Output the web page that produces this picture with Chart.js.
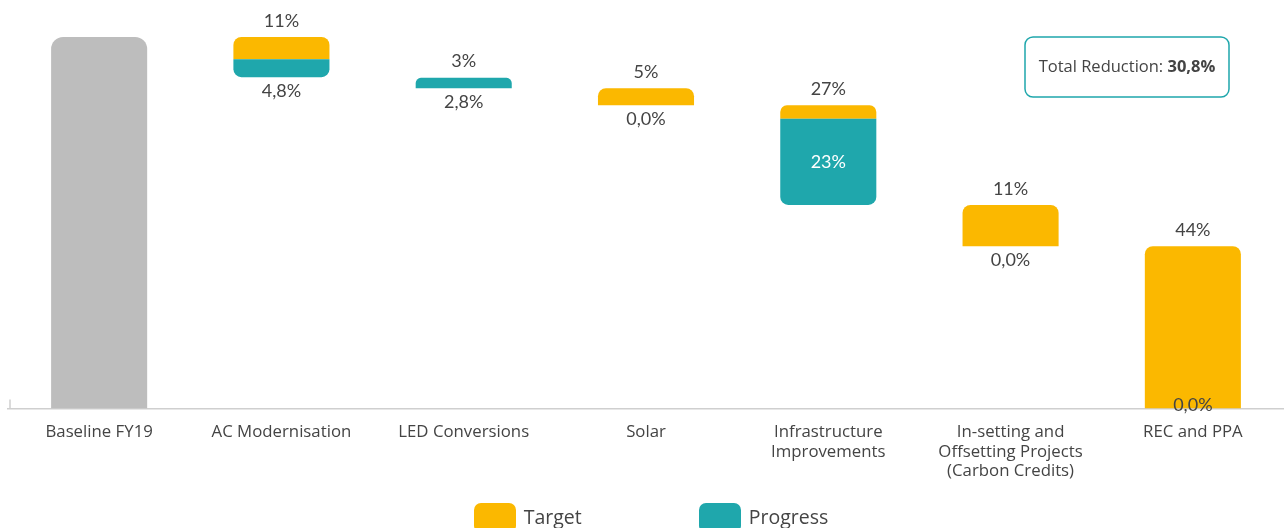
<!DOCTYPE html>
<html>
<head>
<meta charset="utf-8">
<script src="https://cdn.jsdelivr.net/npm/chart.js@4.4.1/dist/chart.umd.min.js"></script>
<style>
  body { margin: 0; background: #fff; }
  #wrap { position: relative; width: 1284px; height: 528px; overflow: hidden; }
  #legend {
    position: absolute; left: 0; right: 0; top: 503px;
    display: flex; justify-content: center; gap: 117px;
    font-family: 'Open Sans', sans-serif; font-size: 19.5px; color: #444;
    padding-left: 18px;
  }
  .legend-item { display: flex; align-items: flex-start; }
  .legend-box { width: 42px; height: 30px; border-radius: 7px; margin-right: 8px; }
  .legend-text { line-height: 28px; }
</style>
</head>
<body>
<div id="wrap">
  <canvas id="chart"></canvas>
  <div id="legend"></div>
</div>
<script>
const categories = ['Baseline FY19', 'AC Modernisation', 'LED Conversions', 'Solar',
    ['Infrastructure', 'Improvements'],
    ['In-setting and', 'Offsetting Projects', '(Carbon Credits)'],
    'REC and PPA'];
const baselineValue = 100;
// target reduction per initiative (% of baseline)
const targetValues = [10.8, 3.0, 4.6, 26.8, 11.1, 43.7];
// achieved so far
const progressValues = [4.8, 2.8, 0, 23.2, 0, 0];

const colors = {
    baseline: '#bdbdbd',
    target: '#fbb800',
    progress: '#1fa7ac',
    text: '#444444'
};

// build waterfall ranges: progress fills the bottom of each step, target the rest
const baselineData = [[0, baselineValue]];
const targetData = [null];
const progressData = [null];
const stepBottoms = [0];
let level = baselineValue;
targetValues.forEach((t, i) => {
    const bottom = Math.max(0, level - t);
    const p = progressValues[i];
    baselineData.push(null);
    // skip slivers too thin to see
    targetData.push(level - (bottom + p) > 0.5 ? [bottom + p, level] : null);
    progressData.push(p > 0 ? [bottom, bottom + p] : null);
    stepBottoms.push(bottom);
    level = bottom;
});
const stepTops = [baselineValue].concat(targetValues.map((t, i) => stepBottoms[i + 1] + t));

const totalReduction = progressValues.reduce((a, b) => a + b, 0);

function pct1(v) {
    return v.toFixed(1).replace('.', ',') + '%';
}

const labelPlugin = {
    id: 'waterfallLabels',
    afterDatasetsDraw(chart) {
        const ctx = chart.ctx;
        const area = chart.chartArea;
        const xScale = chart.scales.x;
        const yScale = chart.scales.y;
        ctx.save();
        ctx.textAlign = 'center';
        ctx.textBaseline = 'middle';
        ctx.font = '18px Lato';
        for (let i = 1; i < categories.length; i++) {
            const x = xScale.getPixelForValue(i);
            const yTop = yScale.getPixelForValue(stepTops[i]);
            const yBot = yScale.getPixelForValue(stepBottoms[i]);
            const t = targetValues[i - 1];
            const p = progressValues[i - 1];
            ctx.fillStyle = colors.text;
            ctx.fillText(Math.round(t) + '%', x, yTop - 16);
            const yP = yScale.getPixelForValue(stepBottoms[i] + p);
            if (yBot - yP > 40) {
                ctx.fillStyle = '#ffffff';
                ctx.fillText(Math.round(p) + '%', x, (yP + yBot) / 2);
            } else {
                ctx.fillStyle = colors.text;
                ctx.fillText(pct1(p), x, Math.min(yBot + 14, area.bottom - 3));
            }
        }

        // small stub at the left end of the axis
        ctx.strokeStyle = '#cfcfcf';
        ctx.lineWidth = 1.5;
        ctx.beginPath();
        ctx.moveTo(area.left + 2, area.bottom - 9);
        ctx.lineTo(area.left + 2, area.bottom);
        ctx.stroke();

        // total reduction box
        const bw = 204, bh = 60;
        const bx = area.right - 259, by = area.top;
        ctx.strokeStyle = colors.progress;
        ctx.lineWidth = 1.5;
        ctx.beginPath();
        ctx.roundRect(bx, by, bw, bh, 8);
        ctx.stroke();
        const label = 'Total Reduction: ';
        const value = pct1(totalReduction);
        ctx.font = '16.5px "Open Sans"';
        const w1 = ctx.measureText(label).width;
        ctx.font = 'bold 16.5px "Open Sans"';
        const w2 = ctx.measureText(value).width;
        const tx = bx + (bw - w1 - w2) / 2;
        ctx.textAlign = 'left';
        ctx.fillStyle = colors.text;
        ctx.font = '16.5px "Open Sans"';
        ctx.fillText(label, tx, by + bh / 2);
        ctx.font = 'bold 16.5px "Open Sans"';
        ctx.fillText(value, tx + w1, by + bh / 2);
        ctx.restore();
    }
};

const chart = new Chart(document.getElementById('chart'), {
    type: 'bar',
    data: {
        labels: categories,
        datasets: [{
            label: 'Baseline',
            data: baselineData,
            backgroundColor: colors.baseline,
            borderRadius: { topLeft: 12, topRight: 12 },
            borderSkipped: false,
            grouped: false,
            order: 3
        }, {
            label: 'Target',
            data: targetData,
            backgroundColor: colors.target,
            borderRadius: { topLeft: 8, topRight: 8 },
            borderSkipped: false,
            grouped: false,
            order: 2
        }, {
            label: 'Progress',
            data: progressData,
            backgroundColor: colors.progress,
            borderRadius: ctx => (progressValues[ctx.dataIndex - 1] / targetValues[ctx.dataIndex - 1] > 0.9)
                ? { topLeft: 8, topRight: 8 }
                : { bottomLeft: 8, bottomRight: 8 },
            borderSkipped: false,
            grouped: false,
            order: 1
        }]
    },
    options: {
        responsive: true,
        maintainAspectRatio: false,
        animation: false,
        layout: { padding: { left: 8, right: 0, top: 37, bottom: 33 } },
        datasets: {
            bar: { barPercentage: 0.527, categoryPercentage: 1 }
        },
        plugins: {
            legend: { display: false },
            tooltip: { enabled: false }
        },
        scales: {
            x: {
                grid: { display: false, drawTicks: false },
                border: { display: true, color: '#cfcfcf', width: 1.5 },
                ticks: {
                    color: colors.text,
                    padding: 14,
                    maxRotation: 0,
                    autoSkip: false,
                    font: { family: 'Open Sans', size: 16.8, lineHeight: 1.16 }
                }
            },
            y: {
                display: false,
                min: 0,
                max: 100
            }
        }
    },
    plugins: [labelPlugin]
});

function displayLegend() {
    const legend = document.getElementById('legend');
    legend.innerHTML = chart.data.datasets
        .filter(ds => ds.label !== 'Baseline')
        .map(ds => `
          <div class="legend-item">
            <span class="legend-box" style="background:${ds.backgroundColor}"></span>
            <span class="legend-text">${ds.label}</span>
          </div>`)
        .join('');
}

displayLegend();
</script>
</body>
</html>
